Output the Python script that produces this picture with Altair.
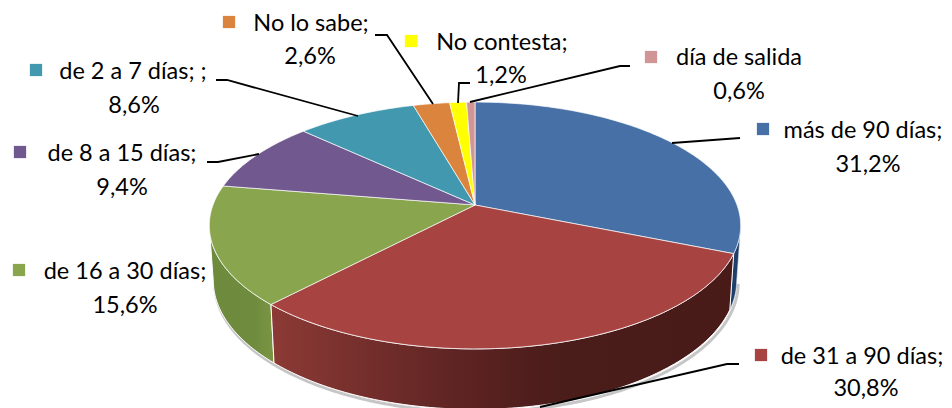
import math
import altair as alt
import pandas as pd

# --- chart values ---
names = ["más de 90 días", "de 31 a 90 días", "de 16 a 30 días", "de 8 a 15 días",
         "de 2 a 7 días", "No lo sabe", "No contesta", "día de salida"]
values = [31.2, 30.8, 15.6, 9.4, 8.6, 2.6, 1.2, 0.6]
colors = ["#4670A6", "#A74442", "#89A54E", "#71588F", "#4198AF", "#DB843D", "#FFFF00", "#D29595"]

label_line1 = ["más de 90 días;", "de 31 a 90 días;", "de 16 a 30 días;", "de 8  a 15 días;",
               "de 2 a 7 días; ;", "No lo sabe;", "No contesta;", "día de salida"]
label_line2 = ["31,2%", "30,8%", "15,6%", "9,4%", "8,6%", "2,6%", "1,2%", "0,6%"]

# --- layout (in the chart's 952x408 frame) ---
line1_x = [863, 862, 125, 122, 133, 311, 502, 739]
line1_y = [131, 357, 272, 154, 72, 23.5, 43, 58]
line2_x = [868, 866, 125, 122, 134, 310, 501, 739]
line2_y = [164.5, 388.5, 305.5, 187.5, 105.5, 57, 75.5, 91.5]
key_x = [763, 761, 19, 20, 36, 229, 411, 651]
key_y = [129, 355, 270, 152, 70, 22, 41, 57]
leaders = [
    [(740, 138), (672, 143)],
    [(739, 364), (727, 364), (540, 407)],
    [],
    [(207, 162), (218, 162), (259, 154)],
    [(216, 80), (227, 80), (358, 116)],
    [(375, 35), (387, 35), (433, 104)],
    [(470, 83), (459, 83), (458, 103)],
    [(630, 66), (620, 66), (470, 102)],
]

# perspective disc
CX, CY, A, B, K = 475, 205, 262, 120, 0.166
LOW_SX, LOW_SY, LOW_DY = 0.985, 1.045, 54


def rim(theta, lower=False):
    u, v = math.sin(theta), math.cos(theta)
    d = 1 + K * v
    if lower:
        return CX + LOW_SX * A * u / d, CY + LOW_DY - LOW_SY * B * v / d
    return CX + A * u / d, CY - B * v / d


def arc(start, end, lower=False, step=1.0):
    n = max(2, int(abs(end - start) / step) + 1)
    return [rim(math.radians(start + (end - start) * i / n), lower) for i in range(n + 1)]


bounds = [0.0]
for val in values:
    bounds.append(bounds[-1] + val * 3.6)

top_rows = []
for i, name in enumerate(names):
    pts = [(CX, CY)] + arc(bounds[i], bounds[i + 1]) + [(CX, CY)]
    top_rows += [{"slice": name, "i": j, "x": p[0], "y": p[1]} for j, p in enumerate(pts)]
top_df = pd.DataFrame(top_rows)


def wall_df(start, end):
    pts = arc(start, end) + arc(end, start, lower=True)
    pts.append(pts[0])
    return pd.DataFrame([{"i": j, "x": p[0], "y": p[1]} for j, p in enumerate(pts)])


X = alt.X("x:Q", scale=alt.Scale(domain=[8, 944]), axis=None)
Y = alt.Y("y:Q", scale=alt.Scale(domain=[408, 8]), axis=None)
ORDER = alt.Order("i:Q")


def grad(stops):
    return alt.Gradient(gradient="linear", x1=0, x2=1, y1=0, y2=0,
                        stops=[alt.GradientStop(offset=o, color=c) for o, c in stops])


def wall(start, end, fill, stroke="#ffffff", sw=1.0):
    return alt.Chart(wall_df(start, end)).mark_line(
        fill=fill, stroke=stroke, strokeWidth=sw, interpolate="linear"
    ).encode(x=X, y=Y, order=ORDER)


shadow_pts = [(p[0] + 1.5, p[1] + 2.5) for p in arc(100, 260, lower=True)]
shadow = alt.Chart(pd.DataFrame([{"i": j, "x": p[0], "y": p[1]} for j, p in enumerate(shadow_pts)])).mark_line(
    stroke="#808080", strokeWidth=3, opacity=0.45
).encode(x=X, y=Y, order=ORDER)

wall_blue = wall(100, bounds[1], "#1F3F6B", stroke="#DDE3EC", sw=0.6)
wall_red = wall(bounds[1], bounds[2],
                grad([(0, "#8C3A35"), (0.4, "#5E2423"), (0.62, "#4A1C1A"), (1, "#481B19")]))
wall_green = wall(bounds[2], 260, grad([(0, "#6E8A3C"), (0.7, "#6F8B3D"), (1, "#7A9644")]))

top = alt.Chart(top_df).mark_line(stroke="#ffffff", strokeWidth=0.8, strokeOpacity=0.85).encode(
    x=X, y=Y, order=ORDER,
    detail="slice:N",
    fill=alt.Fill("slice:N", scale=alt.Scale(domain=names, range=colors), legend=None),
)

leader_rows = []
for i, path in enumerate(leaders):
    leader_rows += [{"slice": names[i], "i": j, "x": p[0], "y": p[1]} for j, p in enumerate(path)]
leader = alt.Chart(pd.DataFrame(leader_rows)).mark_line(color="#000000", strokeWidth=1.8).encode(
    x=X, y=Y, order=ORDER, detail="slice:N"
)

keys = alt.Chart(pd.DataFrame({"slice": names, "x": key_x, "y": key_y})).mark_square(
    size=150, opacity=1, filled=True
).encode(
    x=X, y=Y,
    fill=alt.Fill("slice:N", scale=alt.Scale(domain=names, range=colors), legend=None),
)

text_df = pd.DataFrame({
    "t": label_line1 + label_line2,
    "x": line1_x + line2_x,
    "y": line1_y + line2_y,
})
labels = alt.Chart(text_df).mark_text(
    font="Lato", fontSize=23.5, color="#000000", align="center", baseline="middle"
).encode(x=X, y=Y, text="t:N")

chart = alt.layer(shadow, wall_blue, wall_green, wall_red, top, leader, keys, labels).resolve_scale(
    fill="independent"
).properties(
    width=936, height=400, padding=0, autosize=alt.AutoSizeParams(type="none")
).configure_view(stroke=None)

chart.save("out.html", embed_options={"renderer": "svg", "actions": False})
